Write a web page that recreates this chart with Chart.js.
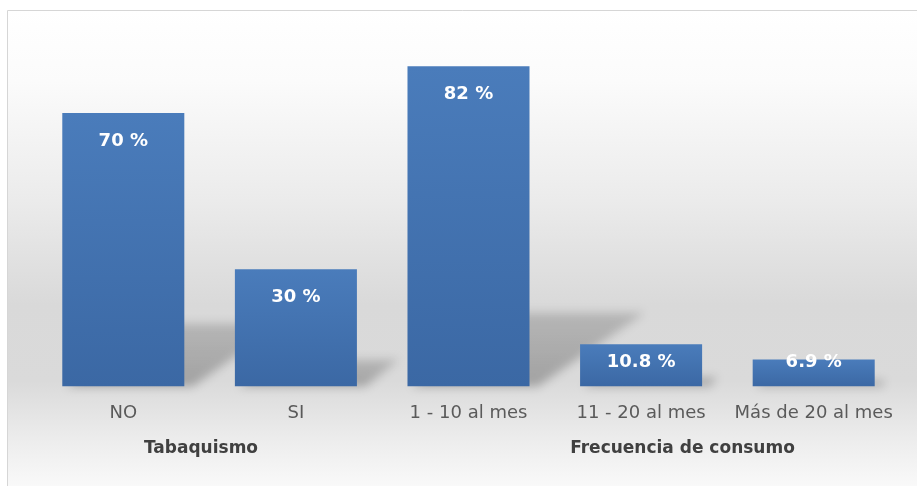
<!DOCTYPE html>
<html lang="es">
<head>
<meta charset="utf-8">
<title>Tabaquismo y frecuencia de consumo</title>
<script src="https://cdn.jsdelivr.net/npm/chart.js@4/dist/chart.umd.min.js"></script>
<style>
  html, body { margin: 0; padding: 0; background: #ffffff; }
  canvas { display: block; }
</style>
</head>
<body>
<canvas id="chart" width="917" height="486"></canvas>
<script>
// Categories, grouped under two headings
const categories = ['NO', 'SI', '1 - 10 al mes', '11 - 20 al mes', 'Más de 20 al mes'];
const percentages = [70, 30, 82, 10.8, 6.9];
const groupLabels = ['Tabaquismo', 'Frecuencia de consumo'];
// where each heading sits, in category-index units
const groupCenters = [0.45, 3.24];
const axisMax = 90;

const FONT = '"DejaVu Sans", "Liberation Sans", sans-serif';

// Panel background: light frame with a soft vertical grey gradient
const panelBackground = {
  id: 'panelBackground',
  beforeDraw(chart) {
    const { ctx, width, height } = chart;
    ctx.save();
    ctx.fillStyle = '#ffffff';
    ctx.fillRect(0, 0, width, height);
    const x0 = 7, y0 = 10;
    const g = ctx.createLinearGradient(0, y0, 0, height);
    g.addColorStop(0.00, '#ffffff');
    g.addColorStop(0.15, '#fbfbfb');
    g.addColorStop(0.40, '#ebebeb');
    g.addColorStop(0.62, '#d9d9d9');
    g.addColorStop(0.78, '#dadada');
    g.addColorStop(0.90, '#ececec');
    g.addColorStop(1.00, '#f9f9f9');
    ctx.fillStyle = g;
    ctx.fillRect(x0, y0, width - x0, height - y0);
    ctx.strokeStyle = '#d6d6d6';
    ctx.lineWidth = 1;
    ctx.beginPath();
    ctx.moveTo(x0 + 0.5, height);
    ctx.lineTo(x0 + 0.5, y0 + 0.5);
    ctx.lineTo(width, y0 + 0.5);
    ctx.stroke();
    ctx.restore();
  }
};

// Perspective shadows cast up and to the right behind every bar
const barShadows = {
  id: 'barShadows',
  beforeDatasetsDraw(chart) {
    const { ctx } = chart;
    const meta = chart.getDatasetMeta(0);
    ctx.save();
    ctx.filter = 'blur(5px)';
    meta.data.forEach(bar => {
      const { x, y, base, width } = bar.getProps(['x', 'y', 'base', 'width'], true);
      const h = base - y;
      const left = x - width / 2, right = x + width / 2;
      const dx = 0.36 * h, dy = 0.23 * h;
      const g = ctx.createLinearGradient(0, base, 0, base - dy);
      g.addColorStop(0, 'rgba(0,0,0,0.26)');
      g.addColorStop(1, 'rgba(0,0,0,0.16)');
      ctx.fillStyle = g;
      ctx.beginPath();
      ctx.moveTo(left + 4, base);
      ctx.lineTo(right + 8, base);
      ctx.lineTo(right + dx, base - dy);
      ctx.lineTo(left + dx, base - dy);
      ctx.closePath();
      ctx.fill();
    });
    ctx.restore();
  }
};

// White percentage labels near the top of each bar
const valueLabels = {
  id: 'valueLabels',
  afterDatasetsDraw(chart) {
    const { ctx } = chart;
    const meta = chart.getDatasetMeta(0);
    ctx.save();
    ctx.font = 'bold 18px ' + FONT;
    ctx.fillStyle = '#ffffff';
    ctx.textAlign = 'center';
    ctx.textBaseline = 'middle';
    meta.data.forEach((bar, i) => {
      const { x, y, base } = bar.getProps(['x', 'y', 'base'], true);
      const ty = Math.min(y + 28, base - 24);
      ctx.fillText(percentages[i] + ' %', x, ty);
    });
    ctx.restore();
  }
};

// Group headings below the category labels
const groupHeadings = {
  id: 'groupHeadings',
  afterDraw(chart) {
    const { ctx, chartArea } = chart;
    const xs = chart.scales.x;
    ctx.save();
    ctx.font = 'bold 17px ' + FONT;
    ctx.fillStyle = '#404040';
    ctx.textAlign = 'center';
    ctx.textBaseline = 'middle';
    groupLabels.forEach((label, i) => {
      ctx.fillText(label, xs.getPixelForValue(groupCenters[i]), chartArea.bottom + 62);
    });
    ctx.restore();
  }
};

function barFill(context) {
  const chart = context.chart;
  if (!chart.chartArea) return '#4676b3';
  const ys = chart.scales.y;
  const top = ys.getPixelForValue(context.raw);
  const base = ys.getPixelForValue(0);
  const g = chart.ctx.createLinearGradient(0, top, 0, base);
  g.addColorStop(0, '#4a7cbb');
  g.addColorStop(1, '#3b68a4');
  return g;
}

new Chart(document.getElementById('chart'), {
  type: 'bar',
  data: {
    labels: categories,
    datasets: [{
      data: percentages,
      backgroundColor: barFill,
      borderWidth: 0,
      barPercentage: 0.707,
      categoryPercentage: 1.0
    }]
  },
  options: {
    responsive: false,
    devicePixelRatio: 1,
    animation: false,
    layout: { padding: { left: 37, right: 17, top: 35, bottom: 46 } },
    plugins: {
      legend: { display: false },
      tooltip: { enabled: false }
    },
    scales: {
      x: {
        grid: { display: false, drawTicks: false },
        border: { display: false },
        ticks: {
          color: '#5a5a5a',
          padding: 16,
          font: { family: FONT, size: 18 }
        }
      },
      y: {
        display: false,
        min: 0,
        max: axisMax
      }
    }
  },
  plugins: [panelBackground, barShadows, valueLabels, groupHeadings]
});
</script>
</body>
</html>
